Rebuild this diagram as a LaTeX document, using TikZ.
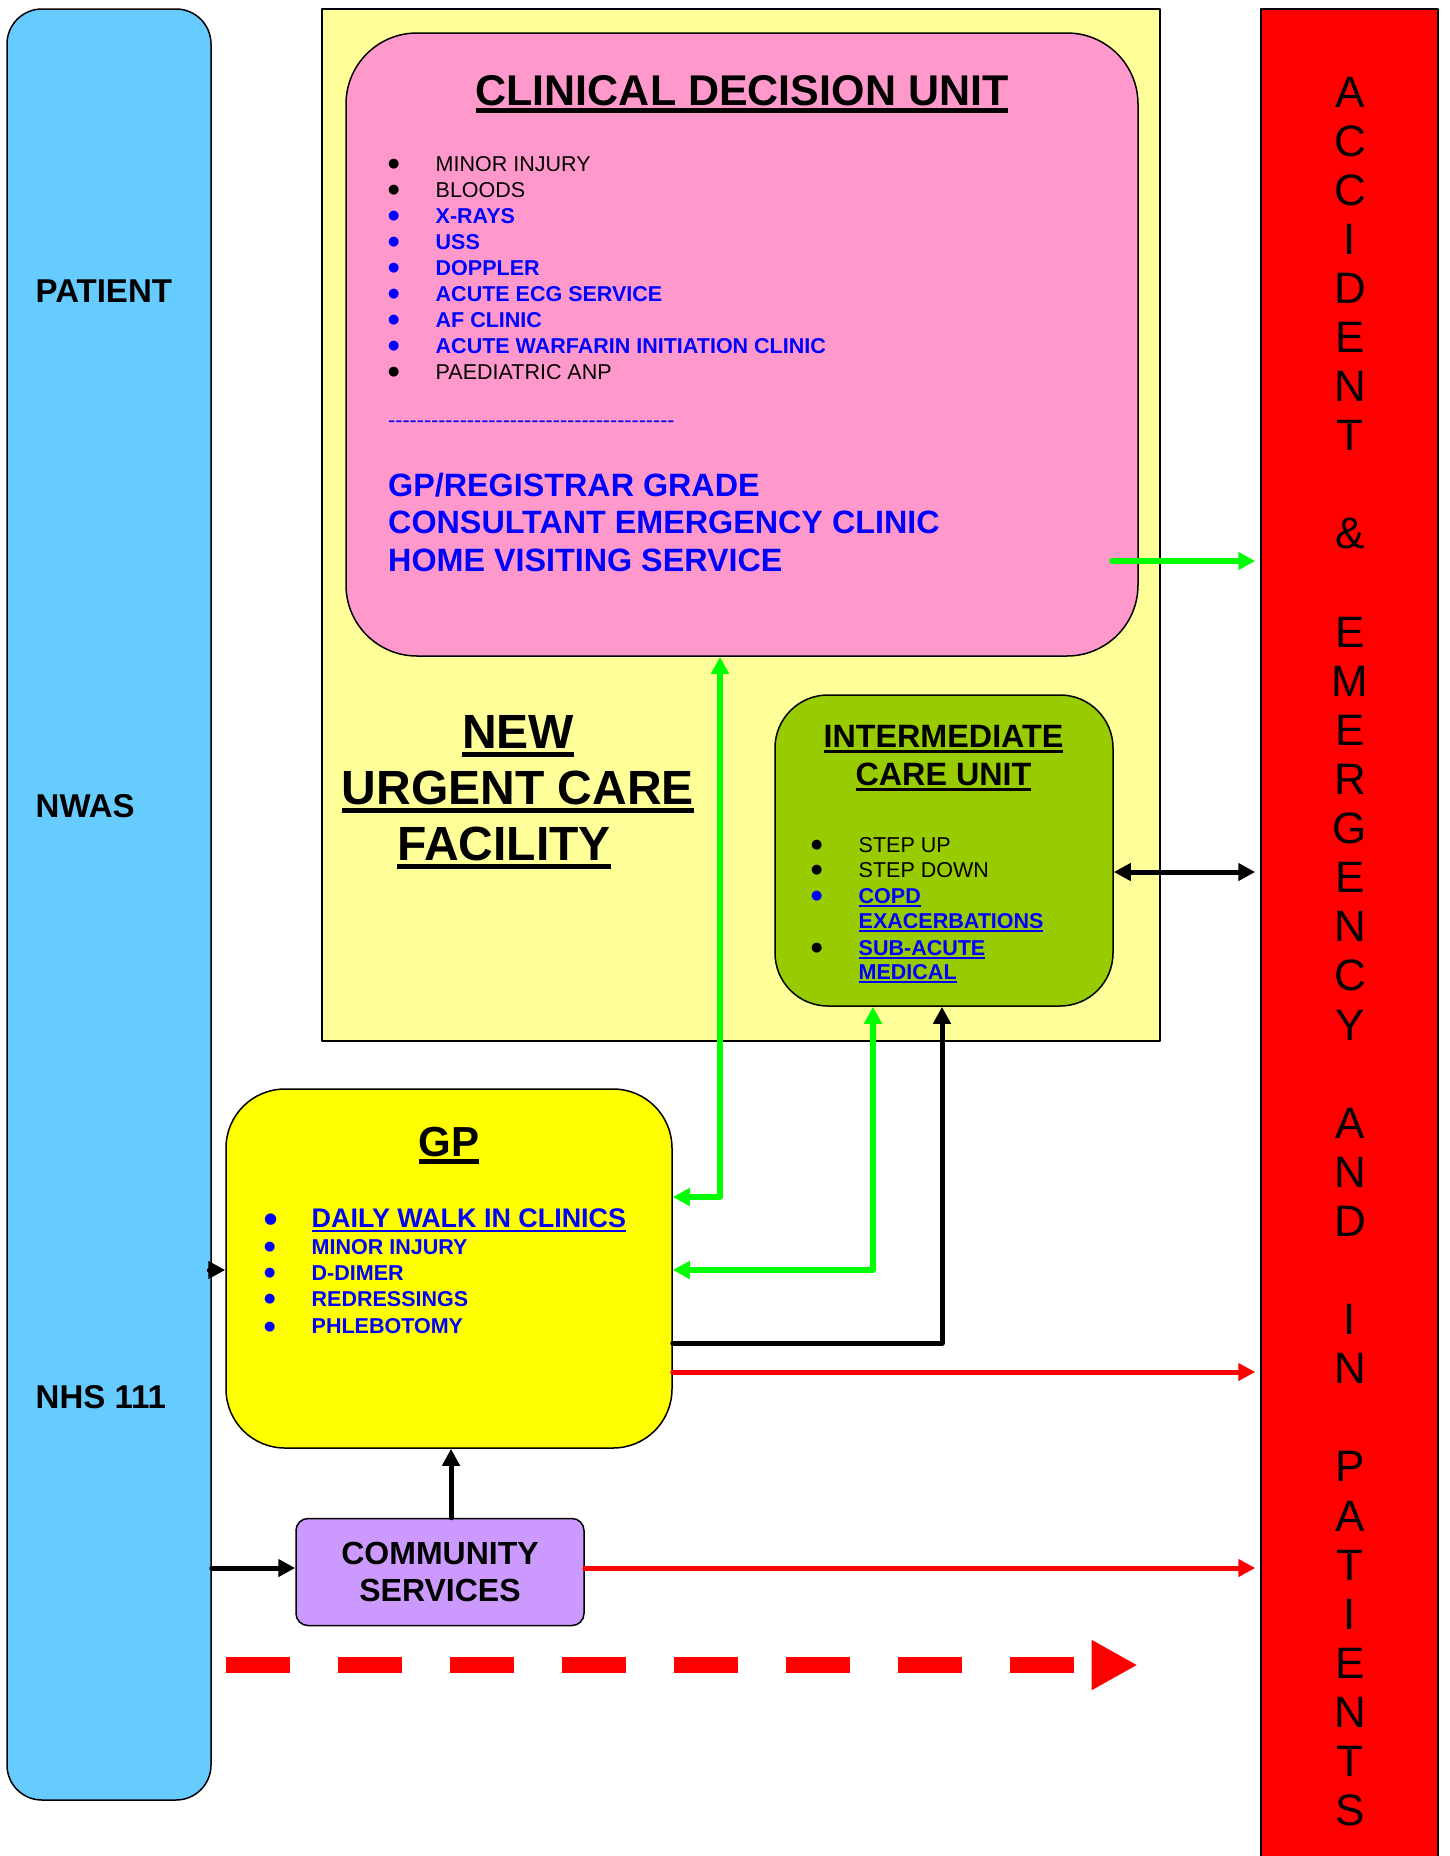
\documentclass[tikz,border=0pt]{standalone}
\usepackage{fontspec}
\setmainfont{Liberation Sans}
\newfontfamily\dejavu{DejaVu Sans}
\usetikzlibrary{arrows.meta}
\definecolor{wwccff}{rgb}{0.4,0.8,1.0}
\definecolor{ffffzz}{rgb}{1.0,1.0,0.6}
\definecolor{ffzzcc}{rgb}{1.0,0.6,0.8}
\definecolor{zzccqq}{rgb}{0.6,0.8,0.0}
\definecolor{ffffqq}{rgb}{1.0,1.0,0.0}
\definecolor{cczzff}{rgb}{0.8,0.6,1.0}
\definecolor{ffqqqq}{rgb}{1.0,0.0,0.0}
\definecolor{qqffqq}{rgb}{0.0,1.0,0.0}
\definecolor{qqqqff}{rgb}{0.0,0.0,1.0}
\newsavebox{\ulbox}
\newcommand{\ulined}[1]{\sbox{\ulbox}{#1}\rlap{\vrule height -0.08em depth 0.18em width \wd\ulbox}\usebox{\ulbox}}
\newcommand{\bul}[1][13]{\makebox[47.5pt][l]{\raisebox{0.16em}{\dejavu\fontsize{#1}{#1}\selectfont ●}}}
\tikzset{
  unit/.style={draw=black,line width=1.5pt,inner sep=0pt},
  txt/.style={inner sep=0pt,anchor=base west},
  item/.style={inner sep=0pt,anchor=base west,font=\fontsize{21.5}{26}\selectfont},
  blueitem/.style={item,text=qqqqff,font=\fontsize{21.5}{26}\selectfont\bfseries},
  gline/.style={color=qqffqq,line width=5.5pt},
  bline/.style={color=black,line width=5pt},
  rline/.style={color=ffqqqq,line width=5pt,shorten >=5pt}
}
\begin{document}
\begin{tikzpicture}[line cap=round,line join=round,>={Triangle[length=17pt,width=17pt]},x=1pt,y=-1pt]
\useasboundingbox (0,0) rectangle (1449,1856);
\clip (0,0) rectangle (1449,1856);
\fill[white] (0,0) rectangle (1449,1856);
% boxes
\node[unit,fill=ffffzz,minimum width=838pt,minimum height=1032pt] (ucf) at (741,525) {};
\node[unit,fill=ffzzcc,rounded corners=71pt,minimum width=792pt,minimum height=623pt] (cdu) at (742,344.5) {};
\node[unit,fill=zzccqq,rounded corners=53pt,minimum width=338pt,minimum height=311pt] (icu) at (944,850.5) {};
\node[unit,fill=wwccff,rounded corners=35pt,minimum width=204pt,minimum height=1791pt] (patient) at (109,904.5) {};
\node[unit,fill=ffqqqq,minimum width=177pt,minimum height=1862pt] (ae) at (1349.5,940) {};
\node[unit,fill=ffffqq,rounded corners=59pt,minimum width=446pt,minimum height=359pt] (gp) at (449,1268.5) {};
\node[unit,fill=cczzff,rounded corners=12pt,minimum width=288pt,minimum height=107pt,align=center,font=\fontsize{32}{36.5}\selectfont\bfseries] (comm) at (440,1572) {COMMUNITY\\SERVICES};
% patient column
\node[txt,font=\fontsize{33}{38}\selectfont\bfseries] (patlbl) at (35.5,302.5) {PATIENT};
\node[txt,font=\fontsize{33}{38}\selectfont\bfseries] (nwas) at (35.5,817.5) {NWAS};
\node[txt,font=\fontsize{33}{38}\selectfont\bfseries] (nhs) at (35.5,1408.5) {NHS 111};
% clinical decision unit
\node[inner sep=0pt,anchor=base,font=\fontsize{43}{50}\selectfont\bfseries] (cdutitle) at (742,105) {\ulined{CLINICAL DECISION UNIT}};
\node[item] (cdu1) at (388,171) {\bul MINOR INJURY};
\node[item] (cdu2) at (388,197) {\bul BLOODS};
\node[blueitem] (cdu3) at (388,223) {\bul X-RAYS};
\node[blueitem] (cdu4) at (388,249) {\bul USS};
\node[blueitem] (cdu5) at (388,275) {\bul DOPPLER};
\node[blueitem] (cdu6) at (388,301) {\bul ACUTE ECG SERVICE};
\node[blueitem] (cdu7) at (388,327) {\bul AF CLINIC};
\node[blueitem] (cdu8) at (388,353) {\bul ACUTE WARFARIN INITIATION CLINIC};
\node[item] (cdu9) at (388,379) {\bul PAEDIATRIC ANP};
\node[item,text=qqqqff] (cdudash) at (388,427) {-{}-{}-{}-{}-{}-{}-{}-{}-{}-{}-{}-{}-{}-{}-{}-{}-{}-{}-{}-{}-{}-{}-{}-{}-{}-{}-{}-{}-{}-{}-{}-{}-{}-{}-{}-{}-{}-{}-{}-{}};
\node[txt,text=qqqqff,font=\fontsize{32.3}{37}\selectfont\bfseries] (staff1) at (388,496) {GP/REGISTRAR GRADE};
\node[txt,text=qqqqff,font=\fontsize{32.3}{37}\selectfont\bfseries] (staff2) at (388,533) {CONSULTANT EMERGENCY CLINIC};
\node[txt,text=qqqqff,font=\fontsize{32.3}{37}\selectfont\bfseries] (staff3) at (388,571) {HOME VISITING SERVICE};
% facility title
\node[inner sep=0pt,anchor=north,align=center,font=\fontsize{48}{56}\selectfont\bfseries] (ucftitle) at (518,715) {\ulined{NEW}\\\ulined{URGENT CARE}\\\ulined{FACILITY}\hspace*{28pt}};
% intermediate care unit
\node[inner sep=0pt,anchor=north,align=center,font=\fontsize{32.3}{38}\selectfont\bfseries] (icutitle) at (943.5,725) {\ulined{INTERMEDIATE}\\\ulined{CARE UNIT}};
\node[item] (icu1) at (811,852) {\bul STEP UP};
\node[item] (icu2) at (811,877) {\bul STEP DOWN};
\node[blueitem] (icu3) at (811,903) {\bul\ulined{COPD}};
\node[blueitem] (icu3b) at (858.5,928) {\ulined{EXACERBATIONS}};
\node[blueitem] (icu4) at (811,955) {\textcolor{black}{\bul}\ulined{SUB-ACUTE}};
\node[blueitem] (icu4b) at (858.5,979) {\ulined{MEDICAL}};
% gp
\node[inner sep=0pt,anchor=base,font=\fontsize{42}{50}\selectfont\bfseries] (gptitle) at (449,1156) {\ulined{GP}};
\node[blueitem,font=\fontsize{26.9}{30}\selectfont\bfseries] (gp1) at (264,1227.5) {\bul[15]\ulined{DAILY WALK IN CLINICS}};
\node[blueitem] (gp2) at (264,1254) {\bul MINOR INJURY};
\node[blueitem] (gp3) at (264,1280) {\bul D-DIMER};
\node[blueitem] (gp4) at (264,1306) {\bul REDRESSINGS};
\node[blueitem] (gp5) at (264,1333.5) {\bul PHLEBOTOMY};
% a&e column
\foreach \k/\ch in {0/A,1/C,2/C,3/I,4/D,5/E,6/N,7/T,9/\&,11/E,12/M,13/E,14/R,15/G,16/E,17/N,18/C,19/Y,21/A,22/N,23/D,25/I,26/N,28/P,29/A,30/T,31/I,32/E,33/N,34/T,35/S}
  \node[inner sep=0pt,font=\fontsize{44}{50}\selectfont] (ae\k) at (1350,92+49.1*\k) {\ch};
% connectors
\coordinate (cduout) at (1112,561);
\draw[gline,->,shorten >=5pt] (cduout) -- (cduout -| ae.west);
\draw[bline,<->,shorten >=5pt] (icu.east |- 0,872) -- (ae.west |- 0,872);
\draw[gline,<->] (gp.east |- 0,1197) -- (720,1197) -- (720,0 |- cdu.south);
\draw[gline,<->] (gp.east |- 0,1270) -- (873,1270) -- (873,0 |- icu.south);
\draw[bline,->] (gp.east |- 0,1343) -- (942,1343) -- (942,0 |- icu.south);
\draw[rline,->] (gp.east |- 0,1372) -- (ae.west |- 0,1372);
\draw[rline,->] (comm.east |- 0,1568) -- (ae.west |- 0,1568);
\draw[bline,->] (patient.east |- 0,1568) -- (comm.west |- 0,1568);
\draw[bline,->] (patient.east |- 0,1270) -- (gp.west |- 0,1270);
\draw[bline,->] (451,0 |- comm.north) -- (451,0 |- gp.south);
% flow arrow
\coordinate (flowstart) at (226,1665);
\coordinate (flowend) at (1137.5,1665);
\draw[ffqqqq,line width=16.7pt,line cap=butt,dash pattern=on 64pt off 48pt,-{Triangle[length=46pt,width=47pt]}] (flowstart) -- (flowend);
\end{tikzpicture}
\end{document}
